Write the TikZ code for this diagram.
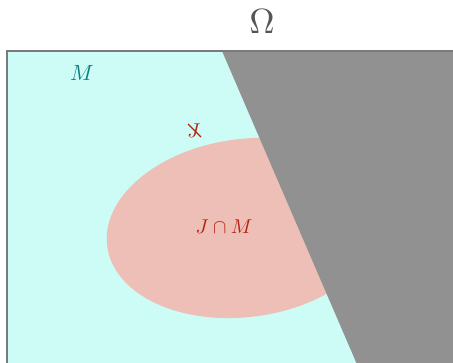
\documentclass[tikz,border=0pt]{standalone}
\usetikzlibrary{positioning}
\definecolor{ccyan}{HTML}{CCFCF5}
\definecolor{csalmon}{HTML}{EDBFB7}
\definecolor{cdark}{HTML}{919191}
\definecolor{cframe}{HTML}{7A7A7A}
\definecolor{cred}{HTML}{B52412}
\definecolor{cteal}{HTML}{0A8080}
\definecolor{comega}{HTML}{555555}
\tikzset{
  every picture/.style={x=1pt, y=1pt},
  region/.style={fill=#1, draw=none},
  lbl/.style={text=#1, inner sep=0pt},
  lbl/.default=cred,
}

\begin{document}
\begin{tikzpicture}
  \useasboundingbox (0, 0) rectangle (453, 362);
  \clip (0, 0) rectangle (453, 362);
  % regions
  \fill[region=ccyan] (7, -10) rectangle (470, 311);
  \fill[region=csalmon, rotate around={7.6:(245, 134)}] (245, 134) ellipse [x radius=139, y radius=89];
  \coordinate (cut top) at (222, 311);
  \coordinate (cut bot) at (360.3, -10);
  \fill[region=cdark] (cut top) -- (470, 311) -- (470, -10) -- (cut bot) -- cycle;
  \draw[cframe, line width=1.5pt] (7, -10) -- (7, 311) -- (470, 311);
  % labels
  \node[lbl=comega, scale=3.5] (omega) at (262, 340) {$\Omega$};
  \node[lbl=cteal, scale=2.2] (m) at (82, 289) {$M$};
  \node[lbl, scale=2] (notj) at (194, 231) {$J$};
  \draw[cred, line width=1.4pt] ([shift={(-6, 7)}]notj.center) -- ([shift={(7, -6)}]notj.center);
  \node[lbl, scale=2] (jm) at (224, 135) {$J \cap M$};
\end{tikzpicture}
\end{document}
